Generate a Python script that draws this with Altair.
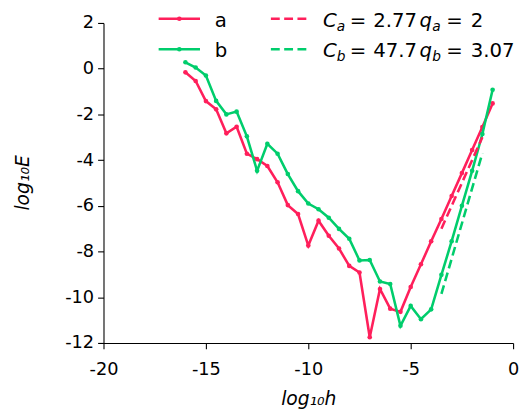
import altair as alt
import pandas as pd

# ---- data ----
log_h = [-16.0, -15.5, -15.0, -14.5, -14.0, -13.5, -13.0, -12.5, -12.0, -11.5,
         -11.0, -10.5, -10.0, -9.5, -9.0, -8.5, -8.0, -7.5, -7.0, -6.5,
         -6.0, -5.5, -5.0, -4.5, -4.0, -3.5, -3.0, -2.5, -2.0, -1.5, -1.0]
err_a = [-0.16, -0.54, -1.42, -1.78, -2.83, -2.54, -3.72, -3.96, -4.26, -4.97,
         -5.97, -6.36, -7.74, -6.65, -7.31, -7.87, -8.63, -8.92, -11.75, -9.64,
         -10.50, -10.64, -9.55, -8.56, -7.55, -6.58, -5.57, -4.57, -3.56, -2.55, -1.52]
err_b = [0.28, 0.05, -0.30, -1.41, -2.00, -1.88, -2.96, -4.47, -3.29, -3.72,
         -4.61, -5.36, -5.90, -6.15, -6.52, -7.01, -7.44, -8.39, -8.37, -9.31,
         -9.42, -11.25, -10.38, -10.96, -10.53, -9.02, -7.55, -6.00, -4.47, -2.86, -0.92]

fit_h = [-3.5, -1.5]
fit_a = [-7.0, -3.0]
fit_b = [-9.85, -3.70]

series_names = ["a", "b"]
fit_labels = [("C", "a", "=", "2.77", "q", "a", "=", "2"),
              ("C", "b", "=", "47.7", "q", "b", "=", "3.07")]

RED = "#ff1f5b"
GREEN = "#00cd6c"
FONT = "DejaVu Sans"

df = pd.DataFrame({
    "h": log_h * 2,
    "E": err_a + err_b,
    "s": ["a"] * len(log_h) + ["b"] * len(log_h),
})
dfit = pd.DataFrame({
    "h": fit_h * 2,
    "E": fit_a + fit_b,
    "s": ["a"] * 2 + ["b"] * 2,
})

xscale = alt.Scale(domain=[-20, 0], nice=False, zero=False)
yscale = alt.Scale(domain=[-12, 2], nice=False, zero=False)

xaxis = alt.Axis(values=[-20, -15, -10, -5, 0], labelExpr="'' + datum.value",
                 labelFlush=False, labelOverlap=False,
                 title="log₁₀h", titleX=208, titleY=63, titleBaseline="alphabetic",
                 titleAlign="center", labelPadding=12)
yaxis = alt.Axis(values=list(range(-12, 3, 2)), labelExpr="'' + datum.value",
                 labelFlush=False, labelOverlap=False,
                 title="log₁₀E", titleAngle=270, titleX=-76, titleY=162,
                 titleBaseline="alphabetic", titleAlign="center", labelPadding=4)

lines = []
for name, col in zip(series_names, [RED, GREEN]):
    lines.append(
        alt.Chart(df[df.s == name]).mark_line(
            color=col, strokeWidth=2.6,
            point=alt.OverlayMarkDef(color=col, size=22, filled=True, opacity=1)
        ).encode(
            x=alt.X("h:Q", scale=xscale, axis=xaxis),
            y=alt.Y("E:Q", scale=yscale, axis=yaxis),
        )
    )
fits = []
for name, col in zip(series_names, [RED, GREEN]):
    fits.append(
        alt.Chart(dfit[dfit.s == name]).mark_line(
            color=col, strokeWidth=2.6, strokeDash=[9, 4.5]
        ).encode(x=alt.X("h:Q", scale=xscale), y=alt.Y("E:Q", scale=yscale))
    )

one = pd.DataFrame({"k": [0]})


def txt(x, y, s, size=20, italic=False):
    return alt.Chart(one).mark_text(
        text=s, align="left", baseline="alphabetic", font=FONT, fontSize=size,
        fontStyle="italic" if italic else "normal", color="black"
    ).encode(x=alt.value(x), y=alt.value(y))


legend = []
row_y = [-4.3, 26.7]
text_y = [4, 35]
for i, (name, col) in enumerate(zip(series_names, [RED, GREEN])):
    ly = row_y[i]
    legend.append(alt.Chart(one).mark_rule(color=col, strokeWidth=2.6).encode(
        x=alt.value(56), x2=alt.value(98), y=alt.value(ly)))
    legend.append(alt.Chart(one).mark_point(color=col, filled=True, opacity=1, size=22).encode(
        x=alt.value(77), y=alt.value(ly)))
    legend.append(txt(113, text_y[i], name))
    legend.append(alt.Chart(one).mark_rule(color=col, strokeWidth=2.6, strokeDash=[9, 4.5]).encode(
        x=alt.value(170), x2=alt.value(206), y=alt.value(ly)))
    C, sa, e1, n1, q, sb, e2, n2 = fit_labels[i]
    ty = text_y[i]
    legend.append(txt(223, ty, C, italic=True))
    legend.append(txt(237, ty + 4, sa, size=14, italic=True))
    legend.append(txt(250, ty, e1))
    legend.append(txt(274, ty, n1))
    legend.append(txt(321, ty, q, italic=True))
    legend.append(txt(334, ty + 4, sb, size=14, italic=True))
    legend.append(txt(348, ty, e2))
    legend.append(txt(373, ty, n2))

chart = alt.layer(*lines, *fits, *legend).properties(
    width=416, height=325,
    autosize=alt.AutoSizeParams(type="none"),
    padding={"left": 97, "top": 12, "right": 6, "bottom": 70},
).configure_view(stroke=None).configure_axis(
    grid=False, domainColor="black", tickColor="black", labelColor="black",
    titleColor="black", labelFont=FONT, titleFont=FONT, labelFontSize=18,
    titleFontSize=19, titleFontStyle="italic", titleFontWeight="normal",
    tickSize=6, domainWidth=1.1, tickWidth=1.1,
)

chart.save("out.html", embed_options={"renderer": "svg", "actions": False})
